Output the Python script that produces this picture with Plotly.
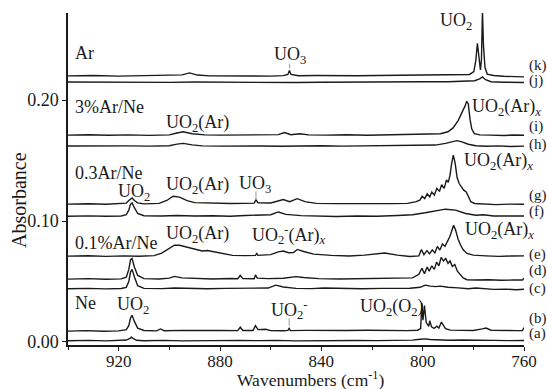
import plotly.graph_objects as go

# ---------------- data (wavenumber cm-1, absorbance) ----------------
a_x = [940, 932, 925, 919, 917, 915.5, 915, 914.3, 913, 910, 902, 895, 888, 880, 872, 865, 858, 850, 842, 834, 826, 818, 810, 804, 801, 799, 797, 794, 790, 784, 778, 772, 766, 760]
a_y = [0.0010, 0.0013, 0.0009, 0.0012, 0.0016, 0.0030, 0.0040, 0.0030, 0.0014, 0.0010, 0.0013, 0.0009, 0.0012, 0.0010, 0.0013, 0.0011, 0.0013, 0.0009, 0.0012, 0.0010, 0.0012, 0.0011, 0.0013, 0.0015, 0.0022, 0.0026, 0.0021, 0.0018, 0.0014, 0.0016, 0.0012, 0.0013, 0.0011, 0.0012]

b_x = [940, 933, 926, 920, 917, 916, 915.3, 914.7, 913.8, 912.5, 910, 905, 903.5, 902, 895, 888, 880, 873, 872, 871, 867, 866, 865, 862, 860, 855, 853.2, 852.7, 852.2, 846, 838, 830, 822, 814, 806, 802, 800.8, 800.3, 799.9, 799.3, 798.6, 797.6, 797.2, 796.5, 795.5, 794.4, 793.6, 792.6, 792.0, 791.0, 789, 785, 780, 776.5, 775, 773, 768, 763, 760.6, 760]
b_y = [0.0090, 0.0094, 0.0089, 0.0092, 0.0102, 0.0135, 0.0200, 0.0220, 0.0170, 0.0115, 0.0095, 0.0092, 0.0108, 0.0093, 0.0096, 0.0093, 0.0095, 0.0094, 0.0122, 0.0095, 0.0095, 0.0135, 0.0102, 0.0105, 0.0094, 0.0093, 0.0096, 0.0112, 0.0094, 0.0096, 0.0093, 0.0095, 0.0097, 0.0093, 0.0094, 0.0097, 0.0110, 0.0320, 0.0180, 0.0300, 0.0160, 0.0130, 0.0175, 0.0125, 0.0112, 0.0130, 0.0115, 0.0165, 0.0140, 0.0110, 0.0098, 0.0094, 0.0095, 0.0108, 0.0115, 0.0097, 0.0093, 0.0094, 0.0095, 0.0120]

c_x = [940, 932, 925, 919, 917, 916, 915.3, 914.7, 913.8, 912.5, 910, 903, 898, 892, 885, 878, 872, 866, 861, 858, 855, 850, 844, 839, 832, 824, 816, 810, 805, 801, 799, 797, 795, 793, 790, 786, 782, 779, 776, 772, 767, 763, 760]
c_y = [0.0440, 0.0443, 0.0439, 0.0442, 0.0452, 0.0500, 0.0580, 0.0600, 0.0540, 0.0465, 0.0443, 0.0441, 0.0446, 0.0442, 0.0440, 0.0443, 0.0445, 0.0442, 0.0446, 0.0470, 0.0455, 0.0443, 0.0441, 0.0446, 0.0442, 0.0440, 0.0443, 0.0441, 0.0444, 0.0452, 0.0470, 0.0462, 0.0458, 0.0462, 0.0452, 0.0447, 0.0440, 0.0446, 0.0440, 0.0435, 0.0437, 0.0432, 0.0436]

d_x = [940, 932, 925, 919, 917, 916, 915.3, 914.7, 913.8, 912.5, 910, 904, 900, 898, 895, 890, 883, 876, 873, 872, 871, 866.5, 866, 865.3, 861, 855, 850, 847, 841, 833, 825, 817, 810, 804, 801.5, 800.3, 799.3, 798.2, 797.4, 796.4, 795.4, 794.5, 793.6, 792.7, 791.8, 790.9, 790.0, 789.2, 788.3, 787.3, 786.3, 785.2, 784.0, 782.5, 779, 774, 769, 764, 760.6, 760]
d_y = [0.0520, 0.0524, 0.0519, 0.0522, 0.0535, 0.0600, 0.0680, 0.0690, 0.0620, 0.0550, 0.0524, 0.0521, 0.0528, 0.0542, 0.0530, 0.0524, 0.0521, 0.0525, 0.0523, 0.0550, 0.0524, 0.0523, 0.0555, 0.0528, 0.0524, 0.0527, 0.0540, 0.0533, 0.0524, 0.0521, 0.0524, 0.0522, 0.0525, 0.0530, 0.0560, 0.0610, 0.0565, 0.0620, 0.0585, 0.0630, 0.0600, 0.0660, 0.0630, 0.0700, 0.0670, 0.0690, 0.0650, 0.0670, 0.0625, 0.0640, 0.0585, 0.0560, 0.0530, 0.0515, 0.0512, 0.0515, 0.0510, 0.0512, 0.0513, 0.0528]

e_x = [940, 932, 925, 918, 912, 906, 903, 900, 898, 896, 893, 890, 887, 885, 882, 879, 875, 870, 866, 865.5, 865, 860, 857, 855, 853, 851, 849.5, 847, 843, 836, 829, 823, 819, 815, 810, 805, 801.5, 800.5, 799.5, 798.3, 797.3, 796.2, 795.2, 794.2, 793.2, 792.2, 791.2, 790.2, 789.3, 788.5, 787.8, 787.0, 786.0, 785.0, 784.0, 782.5, 780, 775, 770, 765, 760]
e_y = [0.0710, 0.0713, 0.0708, 0.0712, 0.0709, 0.0714, 0.0735, 0.0775, 0.0800, 0.0800, 0.0785, 0.0768, 0.0752, 0.0756, 0.0745, 0.0728, 0.0716, 0.0714, 0.0716, 0.0732, 0.0716, 0.0722, 0.0745, 0.0752, 0.0738, 0.0740, 0.0765, 0.0748, 0.0726, 0.0716, 0.0711, 0.0718, 0.0728, 0.0735, 0.0718, 0.0707, 0.0712, 0.0765, 0.0722, 0.0755, 0.0728, 0.0762, 0.0736, 0.0790, 0.0760, 0.0810, 0.0790, 0.0830, 0.0870, 0.0920, 0.0965, 0.0925, 0.0850, 0.0800, 0.0762, 0.0732, 0.0718, 0.0712, 0.0708, 0.0711, 0.0712]

f_x = [940, 932, 925, 919, 917, 916, 915.3, 914.7, 913.8, 912.5, 910, 903, 897, 890, 883, 876, 870, 865, 860, 857, 854, 848, 841, 834, 826, 818, 810, 804, 799, 795, 791, 787, 783, 779, 776, 772, 767, 763, 760]
f_y = [0.1040, 0.1043, 0.1039, 0.1042, 0.1052, 0.1090, 0.1140, 0.1150, 0.1110, 0.1062, 0.1044, 0.1041, 0.1046, 0.1041, 0.1044, 0.1040, 0.1046, 0.1049, 0.1052, 0.1075, 0.1055, 0.1045, 0.1041, 0.1038, 0.1042, 0.1040, 0.1046, 0.1052, 0.1068, 0.1085, 0.1098, 0.1090, 0.1062, 0.1048, 0.1052, 0.1042, 0.1040, 0.1044, 0.1041]

g_x = [940, 932, 925, 919, 917, 916, 915.3, 914.7, 913.8, 912.5, 910, 904, 901, 898.5, 896, 893, 890, 884, 876, 870, 866.5, 865.8, 865, 860, 857, 855, 852.5, 849.5, 846.5, 842, 835, 827, 819, 812, 806, 802.5, 801, 800.2, 799.2, 798.2, 797.2, 796.4, 795.4, 794.4, 793.4, 792.5, 791.5, 790.6, 789.9, 789.2, 788.6, 787.9, 787.2, 786.4, 785.6, 784.7, 783.8, 782.8, 781.9, 781.0, 779.5, 776, 771, 766, 762, 760]
g_y = [0.1140, 0.1143, 0.1139, 0.1142, 0.1148, 0.1170, 0.1185, 0.1190, 0.1170, 0.1150, 0.1142, 0.1146, 0.1170, 0.1205, 0.1198, 0.1168, 0.1152, 0.1148, 0.1145, 0.1146, 0.1148, 0.1175, 0.1150, 0.1149, 0.1170, 0.1178, 0.1160, 0.1185, 0.1160, 0.1146, 0.1144, 0.1142, 0.1146, 0.1144, 0.1146, 0.1160, 0.1175, 0.1205, 0.1185, 0.1225, 0.1200, 0.1240, 0.1215, 0.1270, 0.1245, 0.1300, 0.1270, 0.1340, 0.1320, 0.1380, 0.1470, 0.1545, 0.1480, 0.1360, 0.1310, 0.1280, 0.1255, 0.1240, 0.1195, 0.1160, 0.1145, 0.1140, 0.1136, 0.1140, 0.1137, 0.1139]

h_x = [940, 932, 924, 916, 908, 900, 897, 894.5, 891, 887, 880, 872, 864, 856, 848, 840, 832, 824, 816, 808, 800, 795, 791, 788, 786.5, 784.5, 782, 779, 775, 770, 765, 760]
h_y = [0.1620, 0.1622, 0.1618, 0.1621, 0.1619, 0.1623, 0.1636, 0.1642, 0.1630, 0.1621, 0.1619, 0.1622, 0.1620, 0.1618, 0.1621, 0.1622, 0.1619, 0.1621, 0.1623, 0.1620, 0.1622, 0.1628, 0.1642, 0.1660, 0.1665, 0.1655, 0.1635, 0.1622, 0.1618, 0.1621, 0.1616, 0.1619]

i_x = [940, 932, 924, 916, 908, 900, 897, 894.5, 891, 886, 880, 872, 864, 857, 854.5, 852, 848.5, 845, 838, 830, 822, 814, 806, 798, 793, 790, 788, 786, 784.5, 783.3, 782.6, 782.0, 781.3, 780.6, 779.6, 777.5, 773, 768, 764, 760]
i_y = [0.1710, 0.1713, 0.1709, 0.1712, 0.1708, 0.1712, 0.1728, 0.1738, 0.1722, 0.1712, 0.1710, 0.1713, 0.1711, 0.1714, 0.1732, 0.1714, 0.1722, 0.1712, 0.1710, 0.1713, 0.1709, 0.1712, 0.1714, 0.1716, 0.1722, 0.1738, 0.1770, 0.1830, 0.1890, 0.1950, 0.1990, 0.1970, 0.1840, 0.1760, 0.1722, 0.1712, 0.1710, 0.1707, 0.1711, 0.1709]

j_x = [940, 930, 920, 910, 900, 890, 880, 870, 860, 850, 840, 830, 820, 810, 800, 790, 783, 779.5, 777.5, 776.4, 775.2, 773, 768, 764, 760]
j_y = [0.2150, 0.2148, 0.2145, 0.2148, 0.2146, 0.2149, 0.2147, 0.2150, 0.2148, 0.2145, 0.2148, 0.2150, 0.2147, 0.2150, 0.2152, 0.2151, 0.2154, 0.2160, 0.2175, 0.2192, 0.2168, 0.2152, 0.2148, 0.2146, 0.2145]

k_x = [940, 930, 920, 910, 900, 895, 892, 889, 884, 876, 868, 860, 855, 853.2, 852.6, 852.0, 849, 842, 834, 826, 818, 810, 802, 794, 786, 781.5, 779.8, 779.0, 778.4, 777.8, 777.2, 776.8, 776.4, 776.0, 775.4, 774.5, 772, 768, 764, 760]
k_y = [0.2200, 0.2203, 0.2198, 0.2201, 0.2203, 0.2208, 0.2225, 0.2207, 0.2200, 0.2202, 0.2199, 0.2198, 0.2202, 0.2212, 0.2245, 0.2212, 0.2201, 0.2203, 0.2199, 0.2201, 0.2203, 0.2205, 0.2202, 0.2205, 0.2206, 0.2212, 0.2235, 0.2330, 0.2470, 0.2330, 0.2250, 0.2330, 0.2740, 0.2450, 0.2270, 0.2215, 0.2203, 0.2197, 0.2193, 0.2192]

trace_x = [a_x, b_x, c_x, d_x, e_x, f_x, g_x, h_x, i_x, j_x, k_x]
trace_y = [a_y, b_y, c_y, d_y, e_y, f_y, g_y, h_y, i_y, j_y, k_y]

# right-hand labels and their vertical positions
trace_labels = ["(a)", "(b)", "(c)", "(d)", "(e)", "(f)", "(g)", "(h)", "(i)", "(j)", "(k)"]
trace_label_y = [0.0066, 0.0195, 0.0445, 0.0590, 0.0725, 0.1080, 0.1215, 0.1630, 0.1780, 0.2160, 0.2290]

# in-plot annotations
notes_text = ["Ar", "UO<sub>3</sub>", "UO<sub>2</sub>",
              "3%Ar/Ne", "UO<sub>2</sub>(Ar)", "UO<sub>2</sub>(Ar)<sub><i>x</i></sub>",
              "0.3Ar/Ne", "UO<sub>2</sub>", "UO<sub>2</sub>(Ar)", "UO<sub>3</sub>", "UO<sub>2</sub>(Ar)<sub><i>x</i></sub>",
              "0.1%Ar/Ne", "UO<sub>2</sub>(Ar)", "UO<sub>2</sub><sup>-</sup>(Ar)<sub><i>x</i></sub>", "UO<sub>2</sub>(Ar)<sub><i>x</i></sub>",
              "Ne", "UO<sub>2</sub>", "UO<sub>2</sub><sup>-</sup>", "UO<sub>2</sub>(O<sub>2</sub>)"]
notes_x = [938, 852.5, 787.0,
           938, 889, 781.5,
           938, 914, 889, 866, 784.5,
           938, 889, 853, 784,
           938, 914.5, 852.6, 812]
notes_y = [0.2390, 0.2370, 0.2650,
           0.1940, 0.1810, 0.1935,
           0.1395, 0.1236, 0.1290, 0.1300, 0.1490,
           0.0820, 0.0885, 0.0885, 0.0925,
           0.0325, 0.0300, 0.0265, 0.0285]
notes_anchor = ["left", "center", "center",
                "left", "center", "left",
                "left", "center", "center", "center", "left",
                "left", "center", "center", "left",
                "left", "center", "center", "center"]

# short leader ticks under some labels: x, y_bottom, y_top
leader_x = [852.5, 865.8, 852.7]
leader_y0 = [0.2262, 0.1178, 0.0135]
leader_y1 = [0.2300, 0.1245, 0.0195]

x_ticks = [920, 880, 840, 800, 760]
y_ticks = [0.0, 0.1, 0.2]
y_ticktext = ["0.00", "0.10", "0.20"]
x_title = "Wavenumbers (cm<sup>-1</sup>)"
y_title = "Absorbance"

FONT = "Liberation Serif, Times New Roman, serif"
INK = "#1a1a1a"

fig = go.Figure()
for xs, ys in zip(trace_x, trace_y):
    fig.add_trace(go.Scatter(x=xs, y=ys, mode="lines",
                             line=dict(color=INK, width=1.4),
                             showlegend=False, hoverinfo="skip"))

for t, y in zip(trace_labels, trace_label_y):
    fig.add_annotation(x=1.006, xref="paper", y=y, yref="y", text=t, showarrow=False,
                       xanchor="left", yanchor="middle",
                       font=dict(family=FONT, size=15, color=INK))

for t, x, y, anc in zip(notes_text, notes_x, notes_y, notes_anchor):
    fig.add_annotation(x=x, y=y, text=t, showarrow=False, xanchor=anc,
                       yanchor="middle", font=dict(family=FONT, size=18, color=INK))

for x, y0, y1 in zip(leader_x, leader_y0, leader_y1):
    fig.add_shape(type="line", x0=x, x1=x, y0=y0, y1=y1, xref="x", yref="y",
                  line=dict(color="#999999", width=1))

# axis titles placed as annotations (offset like the reference)
fig.add_annotation(x=0.531, y=-0.1015, xref="paper", yref="paper", text=x_title,
                   showarrow=False, xanchor="center", yanchor="middle",
                   font=dict(family=FONT, size=17.5, color=INK))
fig.add_annotation(x=-0.1075, y=0.437, xref="paper", yref="paper", text=y_title,
                   textangle=-90, showarrow=False, xanchor="center", yanchor="middle",
                   font=dict(family=FONT, size=20, color=INK))

fig.update_layout(
    width=547, height=389,
    margin=dict(l=68, r=23, t=13, b=44, autoexpand=False),
    paper_bgcolor="white", plot_bgcolor="white",
    font=dict(family=FONT, size=18, color=INK),
)
fig.update_xaxes(range=[940, 760], tickvals=x_ticks, showgrid=False, zeroline=False,
                 showline=True, linecolor=INK, linewidth=2,
                 ticks="outside", ticklen=4, tickcolor=INK, ticklabelstandoff=-4,
                 minor=dict(dtick=20, tick0=760, ticks="outside", ticklen=3, tickcolor=INK),
                 tickfont=dict(family=FONT, size=17))
fig.update_yaxes(range=[-0.0025, 0.272], tickvals=y_ticks, ticktext=y_ticktext,
                 showgrid=False, zeroline=False,
                 showline=True, linecolor=INK, linewidth=1.5,
                 ticks="outside", ticklen=4, tickcolor=INK,
                 tickfont=dict(family=FONT, size=18))

fig.write_html("out.html", config={"displayModeBar": False},
               post_script="document.body.style.margin='0';document.body.style.overflow='hidden';")
